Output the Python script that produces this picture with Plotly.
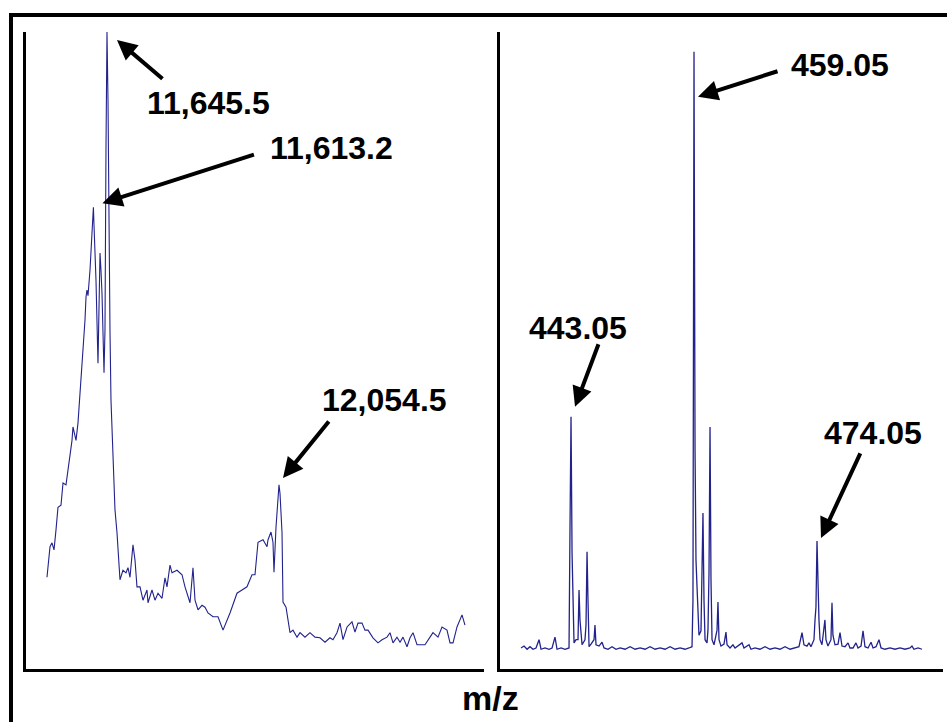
import plotly.graph_objects as go

# ---------------- data ----------------
# Left panel: intact protein spectrum (m/z, relative intensity %)
left_mz = [11502.8, 11507.6, 11510.0, 11514.7, 11519.5, 11524.2, 11529.0, 11536.1, 11540.9, 11548.0,
           11552.8, 11557.5, 11562.3, 11564.6, 11569.4, 11571.8, 11576.5, 11581.3, 11586.0, 11588.4,
           11593.2, 11595.6, 11597.9, 11600.3, 11605.1, 11609.8, 11613.2, 11614.6, 11619.3, 11624.1,
           11626.5, 11628.9, 11631.2, 11633.6, 11638.4, 11640.7, 11643.1, 11645.5, 11647.9, 11650.3,
           11652.6, 11655.0, 11659.8, 11664.5, 11669.3, 11676.4, 11683.5, 11690.7, 11695.4, 11700.2,
           11707.3, 11712.1, 11716.8, 11724.0, 11731.1, 11740.6, 11743.0, 11752.5, 11759.6, 11766.8,
           11776.3, 11783.4, 11788.2, 11795.3, 11800.1, 11812.0, 11823.9, 11831.0, 11842.9, 11850.0,
           11854.8, 11861.9, 11871.4, 11878.5, 11885.7, 11897.6, 11909.5, 11921.4, 11938.0, 11954.6,
           11966.5, 11978.4, 11990.3, 11997.4, 12004.6, 12016.5, 12026.0, 12028.4, 12035.5, 12040.2,
           12042.6, 12047.4, 12054.5, 12056.9, 12061.7, 12064.0, 12071.2, 12080.7, 12087.8, 12097.3,
           12104.5, 12116.3, 12128.2, 12140.1, 12152.0, 12163.9, 12175.7, 12182.9, 12192.4, 12199.6,
           12206.7, 12216.3, 12228.1, 12235.2, 12242.4, 12251.9, 12259.0, 12266.2, 12278.0, 12289.9,
           12299.5, 12311.3, 12318.5, 12325.6, 12335.1, 12342.3, 12349.4, 12358.9, 12366.1, 12373.2,
           12382.7, 12394.6, 12401.7, 12413.6, 12420.7, 12432.6, 12442.1, 12454.0, 12461.2, 12468.3,
           12477.8, 12489.7, 12496.8]
left_int = [14.4, 17.9, 19.2, 19.8, 18.7, 21.8, 25.4, 25.7, 29.2, 28.9,
            31.2, 32.8, 35.9, 38.0, 36.7, 35.9, 38.6, 43.0, 47.4, 50.1,
            54.8, 58.4, 59.5, 58.6, 62.6, 68.4, 72.5, 69.7, 61.1, 48.0,
            57.9, 65.3, 62.6, 59.0, 46.5, 53.2, 81.5, 100.0, 89.3, 65.8,
            53.2, 42.2, 33.6, 25.0, 21.4, 14.0, 15.5, 15.1, 15.9, 14.4,
            19.5, 17.1, 12.9, 12.9, 10.8, 12.4, 10.4, 12.4, 10.8, 11.9,
            11.1, 14.3, 12.9, 16.3, 15.1, 15.5, 14.8, 12.9, 10.4, 15.9,
            10.8, 9.3, 10.0, 9.7, 8.8, 8.2, 8.2, 6.1, 8.8, 11.9,
            12.4, 12.9, 14.8, 14.8, 19.9, 20.3, 19.2, 20.3, 21.5, 19.9,
            15.2, 22.3, 28.9, 27.6, 21.4, 10.5, 9.7, 5.7, 6.1, 5.0,
            5.7, 5.0, 5.7, 5.0, 4.9, 4.2, 4.9, 4.6, 5.7, 7.2,
            4.6, 6.6, 7.4, 5.8, 7.2, 7.2, 6.1, 6.1, 4.9, 4.1,
            4.6, 5.0, 5.7, 4.1, 5.0, 4.2, 5.0, 3.5, 4.9, 5.7,
            3.8, 3.8, 3.8, 5.0, 5.7, 5.0, 6.6, 6.1, 4.1, 4.1,
            6.6, 8.5, 6.9]

# Right panel: low-mass spectrum (m/z, relative intensity %)
right_mz = [436.75, 437.13, 437.51, 437.88, 438.26, 438.64, 439.02, 439.27, 439.77, 440.28,
            440.66, 441.03, 441.29, 441.79, 442.29, 442.80, 442.92, 443.05, 443.18, 443.30,
            443.43, 443.68, 443.93, 444.06, 444.18, 444.44, 444.81, 444.94, 445.07, 445.19,
            445.32, 445.57, 445.95, 446.07, 446.20, 446.58, 446.96, 447.21, 447.71, 448.22,
            448.72, 449.23, 449.86, 450.49, 451.12, 451.75, 452.38, 453.01, 453.64, 454.27,
            454.90, 455.53, 456.16, 456.79, 457.42, 457.92, 458.30, 458.42, 458.55, 458.68,
            458.80, 458.93, 459.05, 459.18, 459.43, 459.56, 459.68, 459.81, 459.94, 460.19,
            460.31, 460.44, 460.57, 460.69, 460.82, 461.07, 461.45, 461.57, 461.70, 461.95,
            462.33, 462.58, 462.71, 463.09, 463.46, 463.72, 464.09, 464.60, 464.85, 465.48,
            465.73, 466.23, 466.86, 467.50, 468.13, 468.76, 469.39, 470.02, 470.65, 471.28,
            471.78, 472.16, 472.41, 472.79, 473.04, 473.29, 473.67, 473.80, 473.92, 474.05,
            474.18, 474.30, 474.43, 474.68, 475.05, 475.18, 475.43, 475.81, 475.94, 476.06,
            476.32, 476.70, 476.95, 477.20, 477.58, 477.96, 478.21, 478.59, 478.96, 479.22,
            479.60, 479.85, 480.10, 480.48, 480.86, 481.11, 481.49, 481.86, 482.12, 482.62,
            483.25, 483.88, 484.51, 485.14, 485.77, 486.02, 486.27, 486.78, 487.28]
right_int = [3.3, 3.6, 3.1, 3.5, 3.1, 3.3, 4.6, 3.1, 3.3, 3.1,
             3.3, 5.0, 3.1, 3.3, 3.1, 3.3, 21.8, 39.6, 18.2, 10.8,
             4.1, 4.6, 4.6, 12.4, 7.7, 3.8, 4.6, 6.9, 18.4, 10.8,
             3.5, 3.9, 4.6, 6.9, 3.8, 3.6, 4.2, 3.3, 3.1, 3.5,
             3.1, 3.3, 3.1, 3.5, 3.1, 3.3, 3.1, 3.5, 3.1, 3.3,
             3.1, 3.5, 3.1, 3.3, 3.1, 3.3, 3.5, 10.8, 96.9, 34.4,
             17.1, 12.9, 7.7, 5.3, 6.0, 17.1, 24.5, 10.8, 4.6, 4.1,
             6.1, 15.1, 38.0, 14.0, 4.6, 3.8, 6.1, 10.5, 4.6, 3.6,
             3.9, 5.8, 3.8, 3.3, 3.8, 3.3, 3.6, 4.1, 3.3, 3.8,
             3.1, 3.3, 3.1, 3.5, 3.1, 3.3, 3.1, 3.5, 3.1, 3.3,
             3.5, 5.7, 3.8, 3.6, 4.1, 3.5, 4.6, 7.7, 9.7, 20.1,
             11.3, 7.7, 4.6, 3.8, 7.7, 4.6, 3.6, 4.6, 10.4, 5.3,
             3.8, 3.9, 5.7, 3.6, 3.5, 4.1, 3.3, 3.3, 4.1, 3.3,
             3.6, 6.0, 3.5, 3.3, 4.2, 3.3, 3.5, 4.6, 3.3, 3.1,
             3.3, 3.1, 3.3, 3.1, 3.3, 3.6, 3.1, 3.3, 3.1]

# annotated peaks: (label, panel, m/z, intensity)
peak_labels = ["11,645.5", "11,613.2", "12,054.5", "459.05", "443.05", "474.05"]
peak_panel = [1, 1, 1, 2, 2, 2]
peak_mz = [11645.5, 11613.2, 12054.5, 458.55, 443.05, 474.05]
peak_int = [100.0, 72.5, 28.9, 96.9, 39.6, 20.1]

x_title = "m/z"

# ---------------- figure ----------------
W, H = 947, 722
LINE = "#22228c"

fig = go.Figure()
fig.add_trace(go.Scatter(x=left_mz, y=left_int, mode="lines",
                         line=dict(color=LINE, width=1.1), xaxis="x", yaxis="y",
                         hoverinfo="skip"))
fig.add_trace(go.Scatter(x=right_mz, y=right_int, mode="lines",
                         line=dict(color=LINE, width=1.3), xaxis="x2", yaxis="y2",
                         hoverinfo="skip"))


def px_x(p):
    return p / W


def px_y(p):
    return 1 - p / H


axis_common = dict(showgrid=False, zeroline=False, showticklabels=False, ticks="",
                   showline=True, linecolor="black", linewidth=3, fixedrange=True)

fig.update_layout(
    width=W, height=H,
    margin=dict(l=0, r=0, t=0, b=0),
    paper_bgcolor="white", plot_bgcolor="white",
    showlegend=False,
    xaxis=dict(domain=[px_x(26), px_x(484)], range=[11452.9, 12542.0], anchor="y", **axis_common),
    yaxis=dict(domain=[px_y(669), px_y(32)], range=[0, 100], anchor="x", **axis_common),
    xaxis2=dict(domain=[px_x(500), px_x(943)], range=[434.10, 489.93], anchor="y2", **axis_common),
    yaxis2=dict(domain=[px_y(669), px_y(32)], range=[0, 100], anchor="x2", **axis_common),
)

# outer frame (left and top edges visible)
fig.add_shape(type="line", xref="paper", yref="paper",
              x0=px_x(11), x1=px_x(11), y0=-0.05, y1=px_y(13),
              line=dict(color="black", width=4))
fig.add_shape(type="line", xref="paper", yref="paper",
              x0=px_x(9), x1=1.05, y0=px_y(15), y1=px_y(15),
              line=dict(color="black", width=4))

# arrows: tip offset from peak (xshift, yshift) and tail offset (ax, ay) in pixels
arrow_shift = [(10, -8), (9, 4), (4, 7), (4, -45), (4, 10), (4, 3)]
arrow_tail = [(47, 40), (153, -49), (47, -58), (81, -26), (24, -64), (40, -86)]
label_pos = [(208, 103), (331, 148), (384, 400), (840, 65), (578, 328), (873, 433)]

FONT = dict(family="Liberation Sans, Arial, sans-serif", size=32, color="black")

for i, lab in enumerate(peak_labels):
    xr = "x" if peak_panel[i] == 1 else "x2"
    yr = "y" if peak_panel[i] == 1 else "y2"
    fig.add_annotation(x=peak_mz[i], y=peak_int[i], xref=xr, yref=yr,
                       text="", showarrow=True,
                       ax=arrow_tail[i][0], ay=arrow_tail[i][1],
                       xshift=arrow_shift[i][0], yshift=arrow_shift[i][1],
                       arrowhead=2, arrowsize=1.0, arrowwidth=4, arrowcolor="black")
    fig.add_annotation(x=px_x(label_pos[i][0]), y=px_y(label_pos[i][1]),
                       xref="paper", yref="paper", showarrow=False,
                       text="<b>%s</b>" % lab, font=FONT,
                       xanchor="center", yanchor="middle")

fig.add_annotation(x=px_x(490), y=px_y(698), xref="paper", yref="paper", showarrow=False,
                   text="<b>%s</b>" % x_title,
                   font=dict(family="Liberation Sans, Arial, sans-serif", size=34, color="black"),
                   xanchor="center", yanchor="middle")

fig.write_html("out.html")
